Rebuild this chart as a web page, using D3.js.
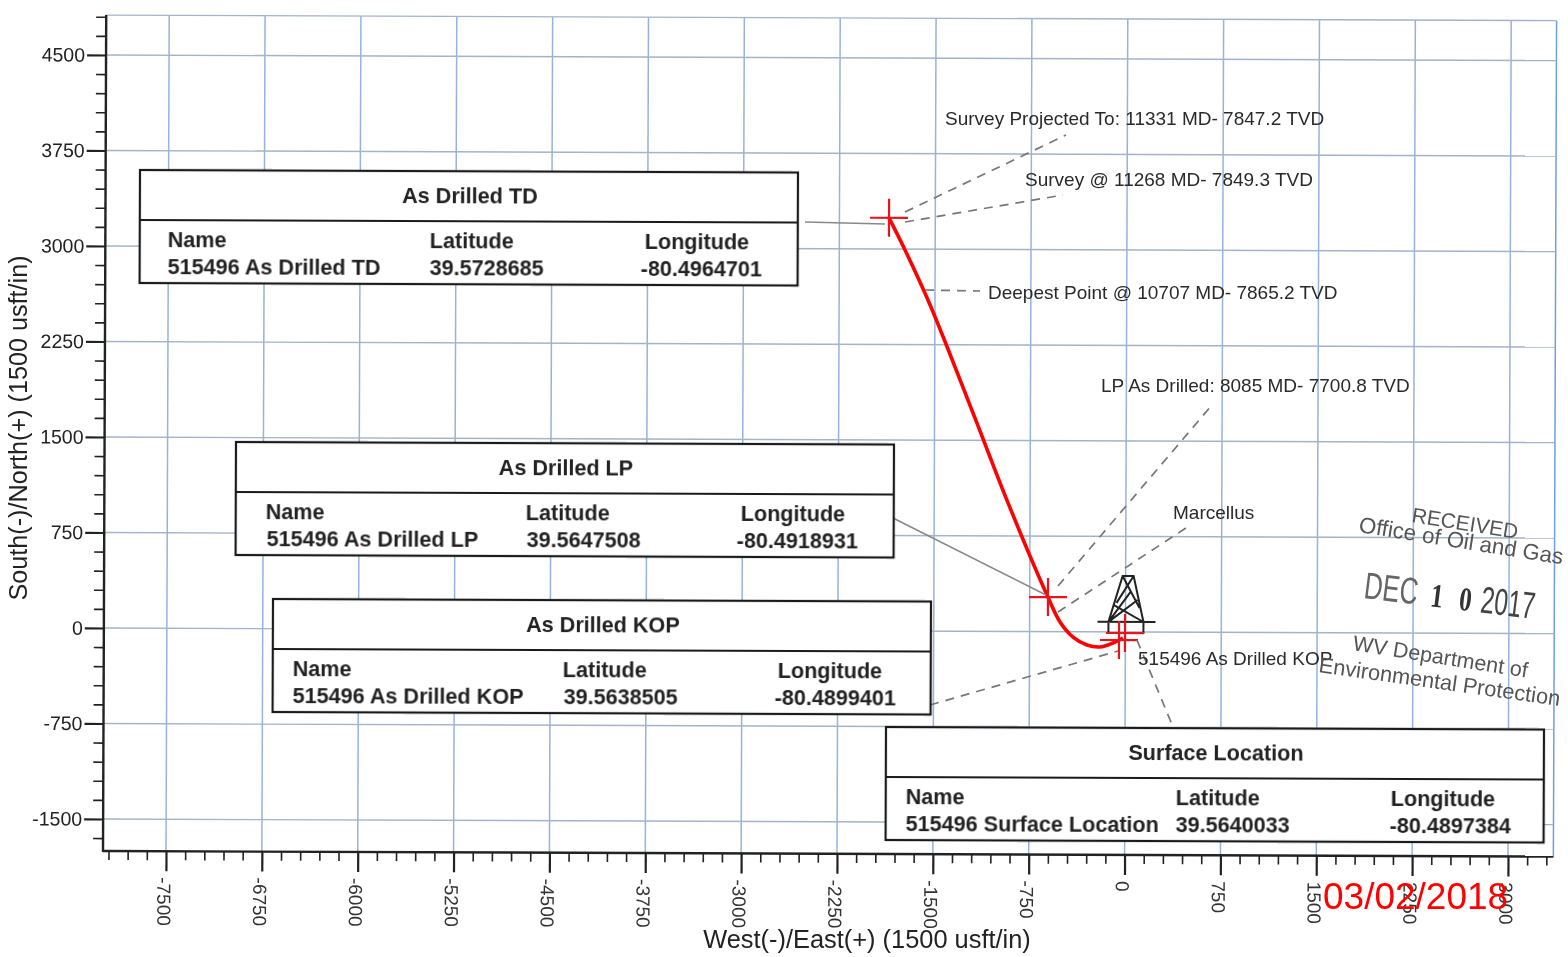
<!DOCTYPE html>
<html>
<head>
<meta charset="utf-8">
<script src="https://cdn.jsdelivr.net/npm/d3@7"></script>
<style>
  html, body { margin: 0; padding: 0; background: #fff; }
  svg { display: block; filter: blur(0.45px); }
  text { font-family: "Liberation Sans", Arial, sans-serif; }
</style>
</head>
<body>
<svg width="1568" height="957"></svg>
<script>
// values
const xMajor = [-7500, -6750, -6000, -5250, -4500, -3750, -3000, -2250, -1500, -750, 0, 750, 1500, 2250, 3000]
const yMajor = [4500, 3750, 3000, 2250, 1500, 750, 0, -750, -1500]
const xMinorStep = 150
const yMinorStep = 150

// wellbore path, east / north in usft
const pathEast = [-1862, -1736, -1538, -1184, -932, -607, -512, -410, -300, -199, -97, -19]
const pathNorth = [3245, 2993, 2562, 1676, 1033, 271, 76, -42, -104, -119, -87, -48]

const crossNames = ['As Drilled TD', 'As Drilled LP', 'As Drilled KOP', 'Surface Location']
const crossEast = [-1862, -607, -50, -3]
const crossNorth = [3245, 271, -64, -9]

const tableTitles = ['As Drilled TD', 'As Drilled LP', 'As Drilled KOP', 'Surface Location']
const tableNames = ['515496 As Drilled TD', '515496 As Drilled LP', '515496 As Drilled KOP', '515496 Surface Location']
const tableLat = ['39.5728685', '39.5647508', '39.5638505', '39.5640033']
const tableLon = ['-80.4964701', '-80.4918931', '-80.4899401', '-80.4897384']

const notes = ['Survey Projected To: 11331 MD- 7847.2 TVD', 'Survey @ 11268 MD- 7849.3 TVD',
  'Deepest Point @ 10707 MD- 7865.2 TVD', 'LP As Drilled: 8085 MD- 7700.8 TVD', 'Marcellus', '515496 As Drilled KOP']

// layout of the page furniture
const tableBox = [
  {x: 140, y: 170, nameX: 28, nameVal: 28, latVal: 290, lonVal: 501},
  {x: 236, y: 442, nameX: 30, nameVal: 31, latVal: 291, lonVal: 501},
  {x: 273, y: 599, nameX: 20, nameVal: 20, latVal: 291, lonVal: 502},
  {x: 886, y: 727, nameX: 20, nameVal: 20, latVal: 290, lonVal: 504}
]
const notePos = [[945, 125], [1025, 186], [988, 299], [1101, 392], [1173, 519], [1138, 665]]
const leaders = [
  [905, 212, 1066, 135], [905, 222, 1063, 195], [925, 290, 980, 291],
  [1058, 586, 1212, 405], [1058, 612, 1186, 528], [930, 705, 1118, 651], [1137, 640, 1173, 727]
]
const connectors = [[805, 222, 885, 224], [893, 518, 1046, 595]]

const svg = d3.select('svg')
const skew = 0.22  // the page was scanned slightly crooked
const ox = 103, oy = 851

const x = d3.scaleLinear().domain([-7500, 3000]).range([166, 1508])
const y = d3.scaleLinear().domain([0, 4500]).range([628, 55])
const xEnd = 3355, yTop = 4790

const plot = svg.append('g').attr('transform', `rotate(${skew},${ox},${oy})`)

// grid
plot.append('g').selectAll('line').data(xMajor.concat([xEnd])).join('line')
  .attr('x1', d => x(d)).attr('x2', d => x(d))
  .attr('y1', y(yTop) - 3).attr('y2', oy)
  .attr('stroke', d => d == xEnd ? '#6f9fe0' : '#94b4dc').attr('stroke-width', 1.5)
plot.append('g').selectAll('line').data(yMajor.concat([yTop])).join('line')
  .attr('y1', d => d == yTop ? y(d) - 3 : y(d)).attr('y2', d => d == yTop ? y(d) - 3 : y(d))
  .attr('x1', ox).attr('x2', x(xEnd))
  .attr('stroke', '#a3b3c8').attr('stroke-width', 1.4)

// axes
const xMinor = d3.range(-7950, 3301, xMinorStep).filter(d => !xMajor.includes(d))
const yMinor = d3.range(-1650, 4801, yMinorStep).filter(d => !yMajor.includes(d))

const axB = plot.append('g').attr('transform', `translate(0,${oy})`)
axB.call(d3.axisBottom(x).tickValues(xMinor).tickSize(9).tickFormat(''))
axB.select('.domain').remove()
axB.selectAll('line').attr('stroke', '#222').attr('stroke-width', 1.6)
const axB2 = plot.append('g').attr('transform', `translate(0,${oy})`)
axB2.call(d3.axisBottom(x).tickValues(xMajor).tickSize(20).tickFormat(d => d))
axB2.select('.domain').remove()
axB2.selectAll('line').attr('stroke', '#222').attr('stroke-width', 2.2)
axB2.selectAll('text')
  .attr('transform', 'rotate(90)')
  .attr('x', 26).attr('y', 3).attr('dy', '0.32em')
  .style('text-anchor', 'start').style('font-size', '19px').attr('fill', '#333')

const axL = plot.append('g').attr('transform', `translate(${ox},0)`)
axL.call(d3.axisLeft(y).tickValues(yMinor).tickSize(10).tickFormat(''))
axL.select('.domain').remove()
axL.selectAll('line').attr('stroke', '#222').attr('stroke-width', 1.6)
const axL2 = plot.append('g').attr('transform', `translate(${ox},0)`)
axL2.call(d3.axisLeft(y).tickValues(yMajor).tickSize(19).tickFormat(d => d))
axL2.select('.domain').remove()
axL2.selectAll('line').attr('stroke', '#222').attr('stroke-width', 2.2)
axL2.selectAll('text').attr('x', -21).style('font-size', '19.5px').attr('fill', '#222')

plot.append('line').attr('x1', ox).attr('x2', ox).attr('y1', y(yTop) - 3).attr('y2', oy + 1)
  .attr('stroke', '#222').attr('stroke-width', 2.4)
plot.append('line').attr('x1', ox).attr('x2', x(xEnd)).attr('y1', oy).attr('y2', oy)
  .attr('stroke', '#222').attr('stroke-width', 2.4)

// leaders
svg.append('g').selectAll('line').data(leaders).join('line')
  .attr('x1', d => d[0]).attr('y1', d => d[1]).attr('x2', d => d[2]).attr('y2', d => d[3])
  .attr('stroke', '#777').attr('stroke-width', 1.7).attr('stroke-dasharray', '9 7')
svg.append('g').selectAll('line').data(connectors).join('line')
  .attr('x1', d => d[0]).attr('y1', d => d[1]).attr('x2', d => d[2]).attr('y2', d => d[3])
  .attr('stroke', '#888').attr('stroke-width', 1.5)

// derrick, hung off the surface location
const sx = x(0), sy = y(0)
const derrick = plot.append('g').attr('transform', `translate(${sx},${sy})`)
  .attr('fill', 'none').attr('stroke', '#222').attr('stroke-width', 2)
derrick.append('path').attr('d',
  'M-17,-10 L-3,-56 L8,-56 L18,-10 M-17,-10 L5,-40 M-3,-56 L14,-24 M8,-56 L-9,-29 ' +
  'M-12,-27 L18,-10 M12,-32 L-17,-10 M-28,-10 L30,-10 M-17,-10 L-17,2 M18,-10 L18,2')

// well path
const lineGen = d3.line().x(d => x(d[0])).y(d => y(d[1])).curve(d3.curveCatmullRom.alpha(0.5))
plot.append('path').datum(d3.zip(pathEast, pathNorth))
  .attr('d', lineGen).attr('fill', 'none').attr('stroke', '#f00').attr('stroke-width', 3.6)

// crosses
const cross = plot.append('g').selectAll('g').data(crossNames).join('g')
  .attr('transform', (d, i) => `translate(${x(crossEast[i])},${y(crossNorth[i])})`)
  .attr('stroke', '#e8141c').attr('stroke-width', 2.2)
cross.append('line').attr('x1', -19).attr('x2', 19)
cross.append('line').attr('y1', -19).attr('y2', 19)

// tables
tableBox.forEach((b, i) => {
  const g = svg.append('g').attr('transform', `translate(${b.x},${b.y}) rotate(${skew})`)
  g.append('rect').attr('width', 658).attr('height', 113)
    .attr('fill', '#fff').attr('stroke', '#1a1a1a').attr('stroke-width', 2.2)
  g.append('line').attr('x1', 0).attr('x2', 658).attr('y1', 50).attr('y2', 50)
    .attr('stroke', '#1a1a1a').attr('stroke-width', 2.2)
  const t = (txt, tx, ty, anchor) => g.append('text').text(txt).attr('x', tx).attr('y', ty)
    .attr('text-anchor', anchor || 'start').attr('font-weight', 'bold')
    .attr('font-size', 21.6).attr('fill', '#222')
  t(tableTitles[i], 330, 32, 'middle')
  t('Name', b.nameX, 77)
  t('Latitude', 290, 77)
  t('Longitude', 505, 77)
  t(tableNames[i], b.nameVal, 104)
  t(tableLat[i], b.latVal, 104)
  t(tableLon[i], b.lonVal, 104)
})

// well labels
svg.append('g').selectAll('text').data(notes).join('text')
  .text(d => d)
  .attr('x', (d, i) => notePos[i][0]).attr('y', (d, i) => notePos[i][1])
  .attr('font-size', 19).attr('fill', '#2a2a2a')

// axis titles
svg.append('text').text('South(-)/North(+) (1500 usft/in)')
  .attr('transform', 'translate(27,428) rotate(-90)').attr('text-anchor', 'middle')
  .attr('font-size', 25.2).attr('fill', '#222')
svg.append('text').text('West(-)/East(+) (1500 usft/in)')
  .attr('x', 867).attr('y', 948).attr('text-anchor', 'middle')
  .attr('font-size', 25.4).attr('fill', '#222')

// received stamp
const stampLines = [
  {t: 'RECEIVED', x: 1411, y: 522, r: 9, s: 21},
  {t: 'Office of Oil and Gas', x: 1358, y: 532, r: 9, s: 22.3},
  {t: 'WV Department of', x: 1352, y: 650, r: 9, s: 21.5},
  {t: 'Environmental Protection', x: 1318, y: 672, r: 8, s: 21.8}
]
svg.append('g').selectAll('text').data(stampLines).join('text')
  .text(d => d.t)
  .attr('transform', d => `translate(${d.x},${d.y}) rotate(${d.r})`)
  .attr('font-size', d => d.s).attr('fill', '#555')
const dateStamp = svg.append('g').attr('transform', 'translate(1363,598) rotate(7)')
dateStamp.append('text').text('DEC').attr('transform', 'scale(1.02,1.5)')
  .attr('font-size', 25).attr('fill', '#666')
dateStamp.append('text').text('1 0').attr('x', 67).attr('transform', 'scale(1,1.35)')
  .attr('font-size', 25).attr('font-weight', 'bold').attr('fill', '#333').attr('letter-spacing', 5)
  .style('font-family', '"Liberation Serif", serif')
dateStamp.append('text').text('2017').attr('x', 125).attr('transform', 'scale(0.94,1.45)')
  .attr('font-size', 26).attr('fill', '#444')

// red date
svg.append('text').text('03/02/2018').attr('x', 1323).attr('y', 909)
  .attr('font-size', 37).attr('fill', '#f00')
</script>
</body>
</html>
